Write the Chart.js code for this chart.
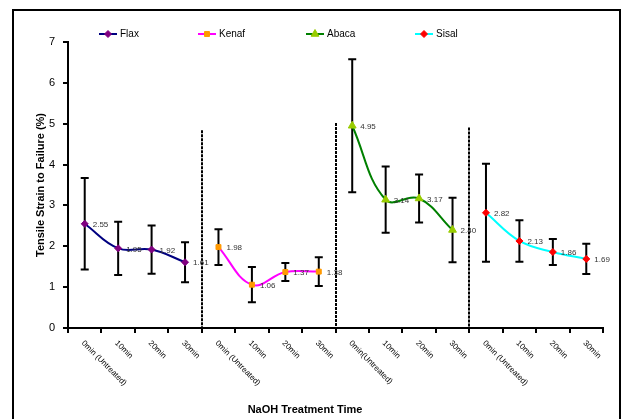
<!DOCTYPE html>
<html><head><meta charset="utf-8">
<script src="https://cdn.jsdelivr.net/npm/chart.js@4.4.0/dist/chart.umd.min.js"></script>
<style>html,body{margin:0;padding:0;background:#fff;} canvas{display:block;}</style>
</head><body>
<canvas id="c" width="622" height="419"></canvas>
<script>
const categories = ["0min (Untreated)","10min","20min","30min","0min (Untreated)","10min","20min","30min","0min(Untreated)","10min","20min","30min","0min (Untreated)","10min","20min","30min"];
const seriesNames = ["Flax","Kenaf","Abaca","Sisal"];
const flax = [2.55,1.95,1.92,1.61];
const flaxErr = [1.12,0.65,0.59,0.49];
const kenaf = [1.98,1.06,1.37,1.38];
const kenafErr = [0.44,0.43,0.22,0.35];
const abaca = [4.95,3.14,3.17,2.40];
const abacaErr = [1.63,0.81,0.59,0.79];
const sisal = [2.82,2.13,1.86,1.69];
const sisalErr = [1.20,0.51,0.32,0.37];
const yTicks = [0,1,2,3,4,5,6,7];
const dividerTops = [4.84,5.02,4.91];
const xTitle = "NaOH Treatment Time";
const yTitle = "Tensile Strain to Failure (%)";

const FONT = "'Liberation Sans', Arial, sans-serif";
const groups = [flax,kenaf,abaca,sisal];
const errs = [flaxErr,kenafErr,abacaErr,sisalErr];
function place(vals, g){ const a = new Array(categories.length).fill(null); vals.forEach((v,i)=>a[g*4+i]=v); return a; }

const styles = [
  {line:'#000080', pt:'#800080', ptBorder:'#800080', shape:'rectRot', r:3.5},
  {line:'#FF00FF', pt:'#FF9900', ptBorder:'#FF9900', shape:'rect', r:3.5},
  {line:'#008000', pt:'#99CC00', ptBorder:'#99CC00', shape:'triangle', r:4.5},
  {line:'#00FFFF', pt:'#FF0000', ptBorder:'#FF0000', shape:'rectRot', r:3.5}
];

const datasets = groups.map((vals,g)=>({
  label: seriesNames[g],
  data: place(vals,g),
  borderColor: styles[g].line,
  borderWidth: 2,
  backgroundColor: styles[g].pt,
  pointBackgroundColor: styles[g].pt,
  pointBorderColor: styles[g].ptBorder,
  pointBorderWidth: 1,
  pointStyle: styles[g].shape,
  pointRadius: styles[g].r,
  tension: 0.4,
  spanGaps: false,
  fill: false
}));

const decor = {
  id:'decor',
  beforeDraw(chart){
    const ctx = chart.ctx;
    ctx.save();
    ctx.fillStyle = '#fff';
    ctx.fillRect(0,0,chart.width,chart.height);
    ctx.strokeStyle = '#000';
    ctx.lineWidth = 2;
    ctx.strokeRect(13,10,607,420);
    ctx.restore();
  },
  beforeDatasetsDraw(chart){
    const ctx = chart.ctx, xs = chart.scales.x, ys = chart.scales.y;
    ctx.save();
    ctx.strokeStyle = '#000';
    ctx.lineWidth = 2;
    ctx.setLineDash([3,1]);
    dividerTops.forEach((top,k)=>{
      const idx = (k+1)*4;
      const x = Math.round((xs.getPixelForValue(idx-1)+xs.getPixelForValue(idx))/2);
      ctx.beginPath();
      ctx.moveTo(x, ys.getPixelForValue(top));
      ctx.lineTo(x, ys.getPixelForValue(0));
      ctx.stroke();
    });
    ctx.setLineDash([]);
    groups.forEach((vals,g)=>{
      vals.forEach((v,i)=>{
        const x = xs.getPixelForValue(g*4+i);
        const yt = ys.getPixelForValue(v+errs[g][i]);
        const yb = ys.getPixelForValue(v-errs[g][i]);
        ctx.beginPath();
        ctx.moveTo(x,yt); ctx.lineTo(x,yb);
        ctx.moveTo(x-4,yt); ctx.lineTo(x+4,yt);
        ctx.moveTo(x-4,yb); ctx.lineTo(x+4,yb);
        ctx.stroke();
      });
    });
    ctx.restore();
  },
  afterDatasetsDraw(chart){
    const ctx = chart.ctx, xs = chart.scales.x, ys = chart.scales.y;
    ctx.save();
    ctx.fillStyle = '#333';
    ctx.font = '8px ' + FONT;
    ctx.textAlign = 'left';
    ctx.textBaseline = 'middle';
    groups.forEach((vals,g)=>{
      vals.forEach((v,i)=>{
        const x = xs.getPixelForValue(g*4+i);
        const y = ys.getPixelForValue(v);
        ctx.fillText(v.toFixed(2), x+8, y+1);
      });
    });
    ctx.fillStyle = '#000';
    ctx.font = '8px ' + FONT;
    const axisY = ys.getPixelForValue(0);
    categories.forEach((lab,i)=>{
      const x = xs.getPixelForValue(i);
      ctx.save();
      ctx.translate(x-2, axisY+14);
      ctx.rotate(Math.PI/4);
      ctx.textAlign = 'left';
      ctx.textBaseline = 'middle';
      ctx.fillText(lab,0,0);
      ctx.restore();
    });
    ctx.font = 'bold 11px ' + FONT;
    ctx.textAlign = 'center';
    ctx.textBaseline = 'middle';
    ctx.fillText(xTitle, 305, 410);
    ctx.save();
    ctx.translate(41, (chart.chartArea.top+chart.chartArea.bottom)/2);
    ctx.rotate(-Math.PI/2);
    ctx.fillText(yTitle,0,0);
    ctx.restore();
    const lx = [99,198,306,415];
    const ly = 34;
    ctx.font = '10px ' + FONT;
    ctx.textAlign = 'left';
    seriesNames.forEach((n,g)=>{
      const s = styles[g];
      ctx.strokeStyle = s.line;
      ctx.lineWidth = 2;
      ctx.beginPath(); ctx.moveTo(lx[g],ly); ctx.lineTo(lx[g]+18,ly); ctx.stroke();
      ctx.fillStyle = s.pt; ctx.strokeStyle = s.ptBorder; ctx.lineWidth = 1;
      Chart.helpers.drawPoint(ctx,{pointStyle:s.shape, radius:s.r, rotation:0, borderWidth:1}, lx[g]+9, ly);
      ctx.fillStyle = '#000';
      ctx.fillText(n, lx[g]+21, ly);
    });
    ctx.restore();
  }
};

new Chart(document.getElementById('c'), {
  type:'line',
  data:{labels:categories, datasets},
  options:{
    responsive:false,
    animation:false,
    devicePixelRatio:1,
    layout:{padding:{left:0, top:42, right:19, bottom:0}},
    plugins:{legend:{display:false}, title:{display:false}, tooltip:{enabled:false}},
    scales:{
      x:{
        type:'category',
        offset:true,
        grid:{offset:true, drawOnChartArea:false, drawTicks:true, tickLength:5, color:'#000', lineWidth:2},
        border:{display:true, color:'#000', width:2},
        ticks:{display:false},
        afterFit(s){ s.height = 91; }
      },
      y:{
        min:0, max:7,
        afterBuildTicks(s){ s.ticks = yTicks.map(v=>({value:v})); },
        ticks:{color:'#000', font:{family:FONT, size:11}, padding:8},
        grid:{drawOnChartArea:false, drawTicks:true, tickLength:5, color:'#000', lineWidth:2},
        border:{display:true, color:'#000', width:2},
        afterFit(s){ s.width = 68; }
      }
    }
  },
  plugins:[decor]
});
</script>
</body></html>
